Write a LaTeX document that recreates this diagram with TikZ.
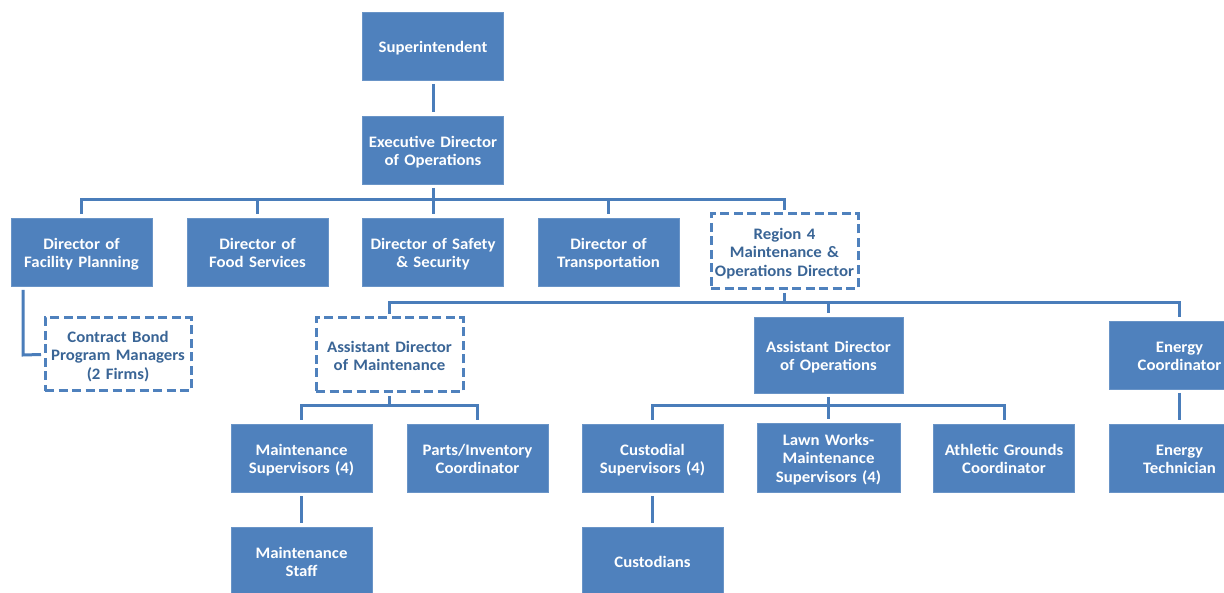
\documentclass[tikz,border=0pt]{standalone}
\usepackage{fontspec}
\setmainfont{Carlito}[FakeStretch=1.05]
\definecolor{boxblue}{HTML}{4F81BD}
\definecolor{linkblue}{HTML}{4A7DBA}
\definecolor{darktext}{HTML}{3A6596}
\begin{document}
\begin{tikzpicture}[x=1pt,y=-1pt,
  every node/.style={font=\fontsize{16}{18.5}\selectfont\bfseries, align=center, text width=139pt, inner sep=0pt, outer sep=4pt,
    execute at begin node={\rule{0pt}{18.5pt}}, execute at end node={\strut}},
  solidbox/.style={fill=boxblue, draw=boxblue!85!white, line width=0.6pt, text=white, minimum width=141pt, minimum height=68pt},
  dashbox/.style={fill=white, draw=boxblue, line width=3pt, dash pattern=on 9pt off 4.5pt, text=darktext},
  link/.style={draw=linkblue, line width=3pt}]
\clip (0,0) rectangle (1224,593);
\fill[white] (0,0) rectangle (1224,593);
% level 0-1
\node[solidbox] (sup) at (433,46) {Superintendent};
\node[solidbox] (exec) at (433,150) {Executive Director\\of Operations};
% level 2
\node[solidbox] (fac) at (81.5,252) {Director of\\Facility Planning};
\node[solidbox] (food) at (257.5,252) {Director of\\Food Services};
\node[solidbox] (safety) at (433,252) {Director of Safety\\\& Security};
\node[solidbox] (trans) at (608.5,252) {Director of\\Transportation};
\node[dashbox, text width=146pt, minimum width=147pt, minimum height=75pt] (reg) at (784.5,251.5) {Region 4\\Maintenance \&\\Operations Director};
% level 3
\node[dashbox, minimum width=146pt, minimum height=73pt] (contract) at (118,354.5) {Contract Bond\\Program Managers\\(2 Firms)};
\node[dashbox, minimum width=147pt, minimum height=74pt] (adm) at (389.5,355) {Assistant Director\\of Maintenance};
\node[solidbox, minimum width=149pt, minimum height=76pt] (ado) at (828.5,355) {Assistant Director\\of Operations};
\node[solidbox] (ec) at (1179.5,355) {Energy\\Coordinator};
% level 4
\node[solidbox] (ms) at (301.5,458) {Maintenance\\Supervisors (4)};
\node[solidbox] (parts) at (477.5,458) {Parts/Inventory\\Coordinator};
\node[solidbox] (cs) at (652.5,458) {Custodial\\Supervisors (4)};
\node[solidbox, minimum width=143pt, minimum height=69pt] (lawn) at (828.5,457.5) {Lawn Works-\\Maintenance\\Supervisors (4)};
\node[solidbox] (ath) at (1004,458) {Athletic Grounds\\Coordinator};
\node[solidbox] (et) at (1179.5,458) {Energy\\Technician};
% level 5
\node[solidbox] (staff) at (301.5,561) {Maintenance\\Staff};
\node[solidbox] (cust) at (652.5,561) {Custodians};
% bus points
\coordinate (b1) at (433,200);
\coordinate (b2) at (784.5,303);
\coordinate (b3) at (389.5,406);
\coordinate (b4) at (828.5,406);
\coordinate (cf) at (23,355);
% connectors
\draw[link] (sup.south) -- (exec.north);
\draw[link] (exec.south) -- (b1);
\draw[link] (fac.north) |- (b1);
\draw[link] (food.north) |- (b1);
\draw[link] (safety.north) -- (b1);
\draw[link] (trans.north) |- (b1);
\draw[link] (reg.north) |- (b1);
\draw[link] (fac.south -| cf) -- (cf) -- (contract.west);
\draw[link] (reg.south) -- (b2);
\draw[link] (adm.north) |- (b2);
\draw[link] (ado.north) |- (b2);
\draw[link] (ec.north) |- (b2);
\draw[link] (adm.south) -- (b3);
\draw[link] (ms.north) |- (b3);
\draw[link] (parts.north) |- (b3);
\draw[link] (ado.south) -- (b4);
\draw[link] (cs.north) |- (b4);
\draw[link] (lawn.north) -- (b4);
\draw[link] (ath.north) |- (b4);
\draw[link] (ec.south) -- (et.north);
\draw[link] (ms.south) -- (staff.north);
\draw[link] (cs.south) -- (cust.north);
\end{tikzpicture}
\end{document}
